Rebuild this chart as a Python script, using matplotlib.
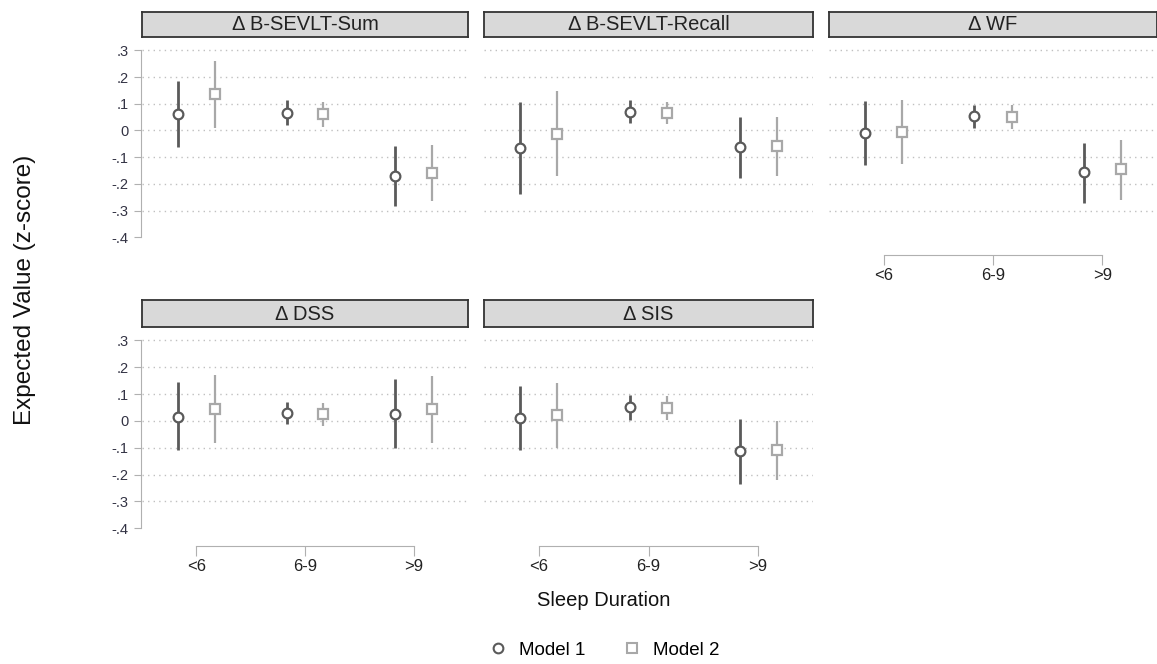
import numpy as np
import matplotlib.pyplot as plt
from matplotlib.lines import Line2D

plt.rcParams['font.family'] = ['Liberation Sans', 'DejaVu Sans']

# sleep duration groups
groups = ['<6', '6-9', '>9']
panels = ['\u0394 B-SEVLT-Sum', '\u0394 B-SEVLT-Recall', '\u0394 WF', '\u0394 DSS', '\u0394 SIS']

# point estimates, lower and upper CI for each model
m1_est = [[0.060, 0.067, -0.171], [-0.065, 0.071, -0.063], [-0.009, 0.054, -0.157],
          [0.016, 0.029, 0.026], [0.010, 0.051, -0.112]]
m1_lo = [[-0.063, 0.020, -0.281], [-0.237, 0.028, -0.179], [-0.129, 0.009, -0.271],
         [-0.110, -0.012, -0.100], [-0.110, 0.005, -0.234]]
m1_hi = [[0.187, 0.115, -0.059], [0.106, 0.114, 0.050], [0.112, 0.097, -0.046],
         [0.144, 0.071, 0.156], [0.129, 0.096, 0.006]]

m2_est = [[0.135, 0.061, -0.160], [-0.013, 0.065, -0.059], [-0.004, 0.052, -0.146],
          [0.046, 0.025, 0.044], [0.021, 0.050, -0.110]]
m2_lo = [[0.009, 0.012, -0.265], [-0.171, 0.023, -0.171], [-0.125, 0.007, -0.259],
         [-0.081, -0.019, -0.084], [-0.099, 0.003, -0.219]]
m2_hi = [[0.262, 0.106, -0.056], [0.146, 0.108, 0.050], [0.115, 0.096, -0.035],
         [0.170, 0.066, 0.166], [0.140, 0.094, 0.000]]

yticks = [0.3, 0.2, 0.1, 0, -0.1, -0.2, -0.3, -0.4]
ytick_labels = ['.3', '.2', '.1', '0', '-.1', '-.2', '-.3', '-.4']

c1 = '#5a5a5a'
c2 = '#a8a8a8'
axis_c = '#b0b0b0'

W, H = 1157, 664
fig = plt.figure(figsize=(W / 100, H / 100), dpi=100)

# panel boxes in pixels: left, right ; rows: strip top, strip bottom, axes bottom
cols_px = [(142, 468), (484, 813), (829, 1157)]
rows_px = [(12, 37, 240), (300, 327, 531)]

x = np.arange(1, 4)
off = 0.17

for k, name in enumerate(panels):
    r, c = divmod(k, 3)
    l, rgt = cols_px[c]
    st, sb, ab = rows_px[r]
    ax = fig.add_axes([l / W, 1 - ab / H, (rgt - l) / W, (ab - sb) / H])
    sax = fig.add_axes([l / W, 1 - sb / H, (rgt - l) / W, (sb - st) / H])
    sax.set_facecolor('#d9d9d9')
    sax.set_xticks([])
    sax.set_yticks([])
    for s in sax.spines.values():
        s.set_color('#333333')
        s.set_linewidth(1.3)
    sax.text(0.5, 0.48, name, ha='center', va='center', fontsize=14.5, color='#222222',
             transform=sax.transAxes)

    ax.set_xlim(0.5, 3.5)
    ax.set_ylim(-0.41, 0.35)
    for g in [0.3, 0.2, 0.1, 0, -0.1, -0.2, -0.3]:
        ax.axhline(g, color='#c0c0c0', lw=1, ls=(0, (1, 3)), zorder=0)

    ax.vlines(x - off, m1_lo[k], m1_hi[k], color=c1, lw=2.0, zorder=2)
    ax.plot(x - off, m1_est[k], 'o', ms=7, mfc='white', mec=c1, mew=1.6, zorder=3)
    ax.vlines(x + off, m2_lo[k], m2_hi[k], color=c2, lw=1.6, zorder=2)
    ax.plot(x + off, m2_est[k], 's', ms=6.5, mfc='white', mec=c2, mew=1.6, zorder=3)

    for s in ['top', 'right']:
        ax.spines[s].set_visible(False)

    if c == 0:
        ax.spines['left'].set_bounds(-0.4, 0.3)
        ax.spines['left'].set_color(axis_c)
        ax.spines['left'].set_position(('outward', 1))
        ax.set_yticks(yticks)
        ax.set_yticklabels(ytick_labels, fontsize=10.5, color='#333344')
        ax.tick_params(axis='y', color=axis_c, length=5)
    else:
        ax.spines['left'].set_visible(False)
        ax.set_yticks([])

    bottom = (r == 1) or (c == 2)
    if bottom:
        ax.spines['bottom'].set_bounds(1, 3)
        ax.spines['bottom'].set_color(axis_c)
        ax.spines['bottom'].set_position(('outward', 11))
        ax.set_xticks(x)
        ax.set_xticklabels(groups, fontsize=12, color='#222222')
        ax.tick_params(axis='x', color=axis_c, length=7, pad=2)
    else:
        ax.spines['bottom'].set_visible(False)
        ax.set_xticks([])

fig.text(25 / W, 1 - 290 / H, 'Expected Value (z-score)', rotation=90, ha='center', va='center',
         fontsize=17.5, color='#111111')
fig.text(604 / W, 1 - 600 / H, 'Sleep Duration', ha='center', va='center', fontsize=14.5,
         color='#111111')

handles = [Line2D([], [], ls='none', marker='o', ms=7, mfc='white', mec=c1, mew=1.5),
           Line2D([], [], ls='none', marker='s', ms=7, mfc='white', mec=c2, mew=1.5)]
fig.legend(handles, ['Model 1', 'Model 2'], loc='center', bbox_to_anchor=(604 / W, 1 - 650 / H),
           ncol=2, frameon=False, fontsize=13.5, handletextpad=0.6, columnspacing=2.0,
           handlelength=1.0)

fig.savefig('out.png', dpi=100)
